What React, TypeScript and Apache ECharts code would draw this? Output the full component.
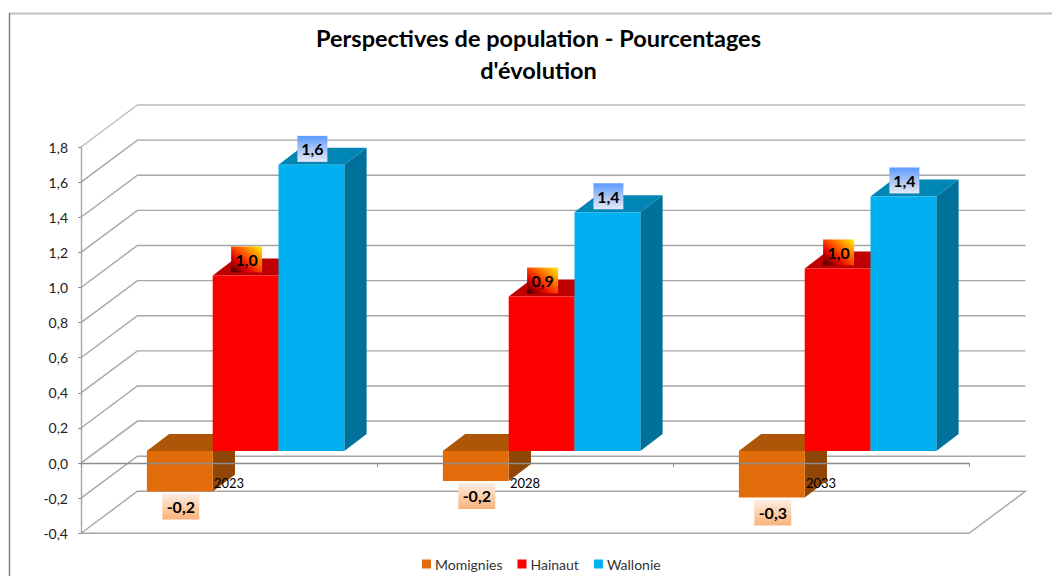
import React, { useEffect, useRef } from "react";
import * as echarts from "echarts";

const titleText = "Perspectives de population - Pourcentages\nd'évolution";
const categories = ["2023", "2028", "2033"];
const tickValues = [-0.4, -0.2, 0, 0.2, 0.4, 0.6, 0.8, 1.0, 1.2, 1.4, 1.6, 1.8];
const seriesNames = ["Momignies", "Hainaut", "Wallonie"];
const momignies = [-0.23, -0.17, -0.265];
const hainaut = [1.0, 0.88, 1.04];
const wallonie = [1.63, 1.36, 1.45];

const FONT = "Lato, 'Open Sans', sans-serif";
const W = 1052;
const H = 576;
// projected depth of the floor / walls
const WALL_DX = 56.4;
const WALL_DY = -42;
// bar placement inside the depth of the chart
const BAR_SHIFT_DX = 16.6;
const BAR_SHIFT_DY = -12;
const BAR_DX = 22.3;
const BAR_DY = -17;
const BAR_W = 65.8;

const fmt = (v: number) => v.toFixed(1).replace(".", ",");

function lg(x0: number, y0: number, x1: number, y1: number, stops: [number, string][]) {
  return new echarts.graphic.LinearGradient(
    x0, y0, x1, y1,
    stops.map(([offset, color]) => ({ offset, color }))
  );
}

const looks = [
  {
    front: "#E36C0A", top: "#AE5507", side: "#8F4606",
    labelW: 37,
    label: () => lg(0, 0, 0, 1, [[0, "#FDEDE6"], [0.45, "#FCD3B0"], [1, "#F9B27C"]]),
  },
  {
    front: "#FF0000", top: "#BE0000", side: "#A00000",
    labelW: 31,
    label: () => lg(0, 1, 1, 0, [[0, "#300000"], [0.3, "#E00000"], [0.55, "#FF5000"], [1, "#FFF000"]]),
  },
  {
    front: "#00B0F0", top: "#0085B5", side: "#00719B",
    labelW: 30,
    label: () => lg(0, 0, 0, 1, [[0, "#5A9BFF"], [0.5, "#A9C4F8"], [1, "#E6E9F6"]]),
  },
];

function barRenderer(idx: number) {
  return (_params: any, api: any) => {
    const cat = api.value(0);
    const val = api.value(1);
    const look = looks[idx];
    const c0 = api.coord([cat, 0]);
    const cv = api.coord([cat, val]);
    const centre = c0[0] + BAR_SHIFT_DX + (idx - 1) * BAR_W;
    const xl = centre - BAR_W / 2;
    const xr = centre + BAR_W / 2;
    const top = Math.min(c0[1], cv[1]) + BAR_SHIFT_DY;
    const bot = Math.max(c0[1], cv[1]) + BAR_SHIFT_DY;
    const labelY = val >= 0 ? top - 16 : bot + 15;
    const labelX = centre + 1;
    const lw = look.labelW;
    const lh = 26;
    return {
      type: "group",
      children: [
        {
          type: "polygon",
          shape: { points: [[xr, top], [xr + BAR_DX, top + BAR_DY], [xr + BAR_DX, bot + BAR_DY], [xr, bot]] },
          style: { fill: look.side },
        },
        {
          type: "polygon",
          shape: { points: [[xl, top], [xl + BAR_DX, top + BAR_DY], [xr + BAR_DX, top + BAR_DY], [xr, top]] },
          style: { fill: look.top },
        },
        {
          type: "rect",
          shape: { x: xl, y: top, width: BAR_W, height: bot - top },
          style: { fill: look.front },
        },
        {
          type: "rect",
          shape: { x: labelX - lw / 2, y: labelY - lh / 2, width: lw, height: lh },
          style: { fill: look.label() },
        },
        {
          type: "text",
          style: {
            x: labelX,
            y: labelY,
            text: fmt(val),
            fill: "#000",
            font: `bold 16px ${FONT}`,
            align: "center",
            verticalAlign: "middle",
          },
        },
      ],
    };
  };
}

function wallRenderer(_params: any, api: any) {
  const v = api.value(1);
  const first = api.coord([0, v]);
  const last = api.coord([categories.length - 1, v]);
  const band = api.size([1, 0])[0];
  const x0 = first[0] - band / 2;
  const x1 = last[0] + band / 2;
  const y = first[1];
  const isFloor = v === tickValues[0];
  const isTop = v === tickValues[tickValues.length - 1];
  const points = isFloor
    ? [[x0, y], [x0 + WALL_DX, y + WALL_DY], [x1 + WALL_DX, y + WALL_DY], [x1, y], [x0, y]]
    : [[x0, y], [x0 + WALL_DX, y + WALL_DY], [x1 + WALL_DX, y + WALL_DY]];
  return {
    type: "polyline",
    shape: { points },
    style: { fill: "none", stroke: isTop ? "#BDBDBD" : "#A6A6A6", lineWidth: 1.4 },
  };
}

export default function App() {
  const ref = useRef<HTMLDivElement>(null);
  useEffect(() => {
    const chart = echarts.init(ref.current!, null, { renderer: "svg", width: W, height: H });
    const values = [momignies, hainaut, wallonie];
    chart.setOption({
      animation: false,
      backgroundColor: "#FFFFFF",
      textStyle: { fontFamily: FONT },
      title: {
        text: titleText,
        left: 538.5,
        top: 22,
        padding: 0,
        textAlign: "center",
        textStyle: { fontFamily: FONT, fontWeight: "bold", fontSize: 23.5, lineHeight: 32, color: "#000" },
      },
      legend: {
        left: 422,
        top: 557,
        itemWidth: 9,
        itemHeight: 9,
        itemGap: 15,
        icon: "rect",
        padding: 0,
        data: seriesNames,
        textStyle: { fontFamily: FONT, fontSize: 14, color: "#333", padding: [0, 0, 0, -1] },
      },
      grid: { left: 81, top: 147, width: 888, height: 386.3, containLabel: false },
      xAxis: {
        type: "category",
        data: categories,
        z: 10,
        position: "bottom",
        offset: -70.3,
        axisLine: { onZero: false, lineStyle: { color: "#8C8C8C", width: 1.4 } },
        axisTick: { show: true, length: 4, alignWithLabel: false, lineStyle: { color: "#8C8C8C" } },
        axisLabel: { color: "#000", fontFamily: FONT, fontSize: 13, margin: 13 },
        splitLine: { show: false },
      },
      yAxis: {
        type: "value",
        min: -0.4,
        max: 1.8,
        interval: 0.2,
        axisLine: { show: true, lineStyle: { color: "#A6A6A6", width: 1.4 } },
        axisTick: { show: true, length: 3, lineStyle: { color: "#8C8C8C" } },
        axisLabel: {
          color: "#222",
          fontFamily: FONT,
          fontSize: 14,
          margin: 13,
          formatter: (v: number) => fmt(v),
        },
        splitLine: { show: false },
      },
      graphic: [
        { type: "line", z: 0, shape: { x1: 9, y1: 13.5, x2: W, y2: 13.5 }, style: { stroke: "#BFBFBF", lineWidth: 2 } },
        { type: "line", z: 0, shape: { x1: 9.5, y1: 13, x2: 9.5, y2: H }, style: { stroke: "#808080", lineWidth: 1.5 } },
      ],
      series: [
        {
          type: "custom",
          name: "walls",
          z: 1,
          silent: true,
          renderItem: wallRenderer,
          encode: { x: 0, y: 1 },
          data: tickValues.map((t) => [0, t]),
        },
        ...seriesNames.map((name, i) => ({
          type: "custom",
          name,
          z: 2,
          renderItem: barRenderer(i),
          encode: { x: 0, y: 1 },
          itemStyle: { color: looks[i].front },
          data: values[i].map((v, c) => [c, v]),
        })),
      ],
    });
    return () => chart.dispose();
  }, []);
  return <div ref={ref} style={{ position: "fixed", left: 0, top: 0, width: W, height: H }} />;
}
